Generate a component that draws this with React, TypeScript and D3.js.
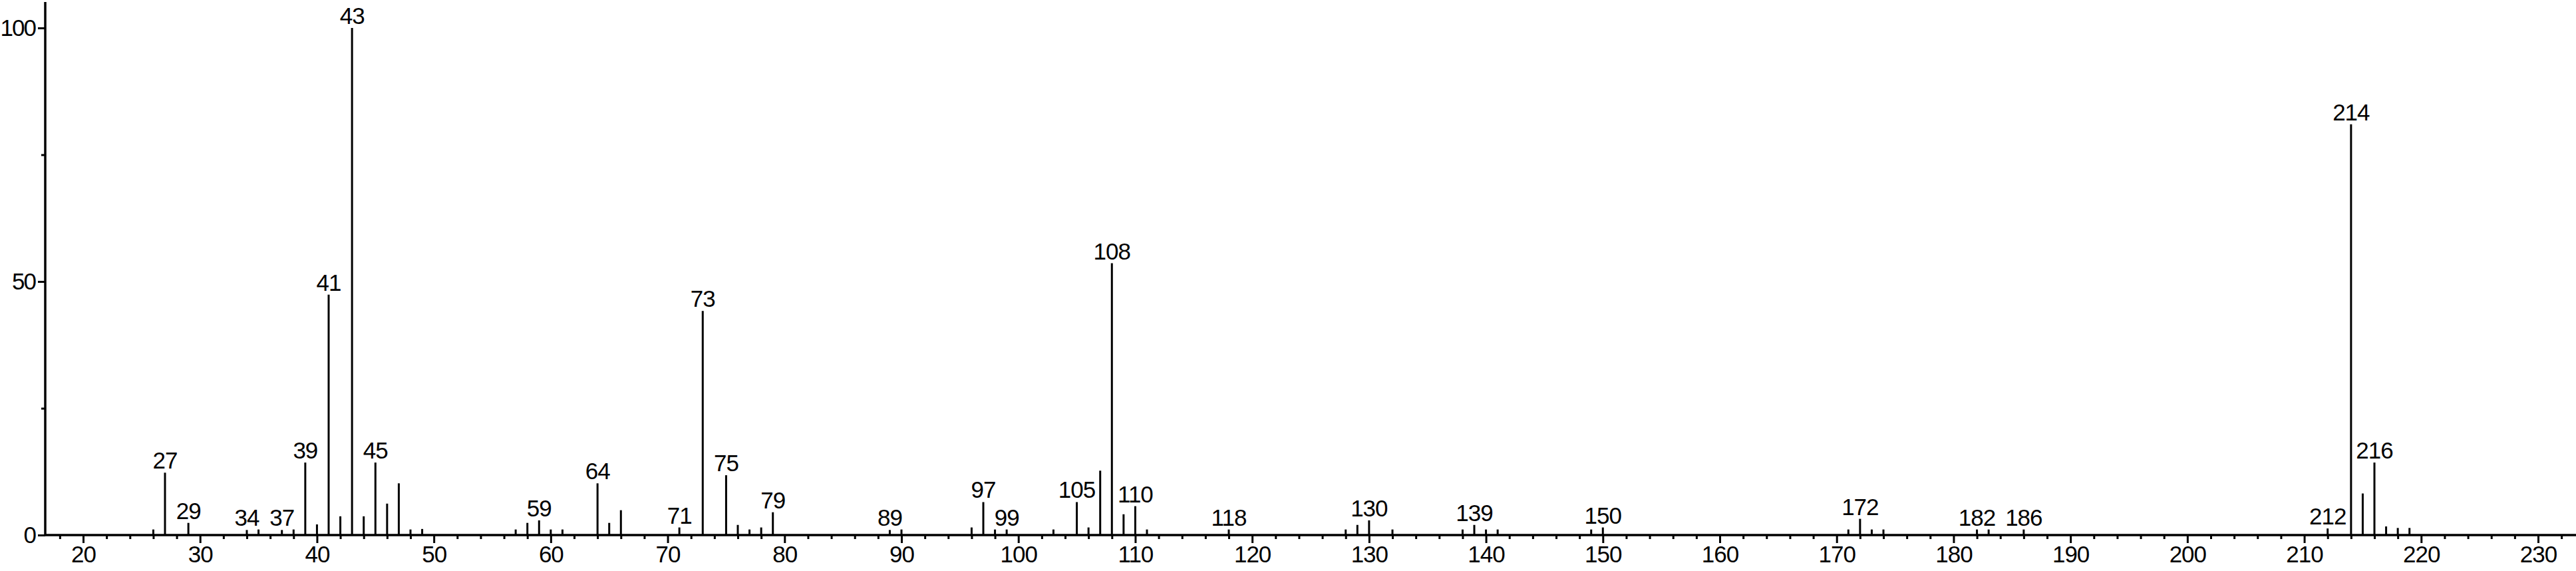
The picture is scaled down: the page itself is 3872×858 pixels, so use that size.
import React, { useEffect, useRef } from 'react';
import * as d3 from 'd3';

// m/z of every line in the spectrum and its relative intensity (%)
const peakMz = [
  26, 27, 29, 34, 35, 37, 38, 39, 40, 41, 42, 43, 44, 45, 46, 47, 48, 49,
  57, 58, 59, 60, 61, 64, 65, 66, 71, 73, 75, 76, 77, 78, 79,
  89, 90, 96, 97, 98, 99, 103, 105, 106, 107, 108, 109, 110, 111, 118,
  128, 129, 130, 132, 138, 139, 140, 141, 149, 150,
  171, 172, 173, 174, 182, 183, 186, 212, 214, 215, 216, 217, 218, 219,
];
const peakIntensity = [
  1.1, 12.3, 2.4, 1.0, 1.1, 1.0, 1.1, 14.3, 2.1, 47.4, 3.7, 100, 3.7, 14.3, 6.2, 10.2, 1.1, 1.2,
  1.1, 2.4, 2.9, 1.1, 1.1, 10.2, 2.4, 4.9, 1.5, 44.2, 11.8, 2.0, 1.1, 1.5, 4.5,
  1.0, 1.1, 1.5, 6.5, 1.1, 1.1, 1.1, 6.5, 1.5, 12.7, 53.6, 4.1, 5.7, 1.1, 1.1,
  1.1, 2.0, 2.9, 1.1, 1.1, 2.0, 1.1, 1.1, 1.1, 1.5,
  1.1, 3.2, 1.1, 1.1, 1.1, 1.1, 1.1, 1.3, 81.0, 8.2, 14.3, 1.7, 1.4, 1.4,
];
// lines that carry their m/z as a label
const labeledMz = [
  27, 29, 34, 37, 39, 41, 43, 45, 59, 64, 71, 73, 75, 79, 89, 97, 99,
  105, 108, 110, 118, 130, 139, 150, 172, 182, 186, 212, 214, 216,
];

const xTickLabels = [20, 30, 40, 50, 60, 70, 80, 90, 100, 110, 120, 130, 140, 150, 160, 170, 180, 190, 200, 210, 220, 230];
const xMinorTicks = [
  18, 22, 24, 26, 28, 32, 34, 36, 38, 42, 44, 46, 48, 52, 54, 56, 58, 62, 64, 66, 68, 72, 74, 76, 78,
  82, 84, 86, 88, 92, 94, 96, 98, 102, 104, 106, 108, 112, 114, 116, 118, 122, 124, 126, 128,
  132, 134, 136, 138, 142, 144, 146, 148, 152, 154, 156, 158, 162, 164, 166, 168, 172, 174, 176, 178,
  182, 184, 186, 188, 192, 194, 196, 198, 202, 204, 206, 208, 212, 214, 216, 218, 222, 224, 226, 228, 232,
];
const yTickLabels = [0, 50, 100];
const yMinorTicks = [25, 75];

const FONT = '"Liberation Sans", Arial, sans-serif';

export default function App() {
  const svgRef = useRef<SVGSVGElement | null>(null);

  useEffect(() => {
    if (!svgRef.current) return;
    const svg = d3.select(svgRef.current);
    svg.selectAll('*').remove();

    const width = 3872;
    const height = 858;
    const left = 68;
    const baseline = 804;

    const x = d3.scaleLinear().domain([20, 230]).range([125, 3815]);
    const y = d3.scaleLinear().domain([0, 100]).range([baseline, 42]);

    svg.append('rect').attr('width', width).attr('height', height).attr('fill', '#fff');

    // x axis
    const xAxis = svg.append('g').attr('transform', `translate(0,${baseline})`);
    xAxis.call(
      d3.axisBottom(x).tickValues(xTickLabels).tickSize(12).tickPadding(4).tickFormat(d3.format('d'))
    );
    xAxis.append('g').call(d3.axisBottom(x).tickValues(xMinorTicks).tickSize(6).tickFormat(() => ''));
    xAxis.selectAll('.domain').remove();
    xAxis.selectAll('line').attr('stroke', '#000').attr('stroke-width', 3);
    xAxis.selectAll('text')
      .attr('font-family', FONT).attr('font-size', 35).attr('letter-spacing', -1).attr('fill', '#000');
    xAxis.append('line')
      .attr('x1', left).attr('x2', width).attr('y1', 0).attr('y2', 0)
      .attr('stroke', '#000').attr('stroke-width', 3.5);

    // y axis
    const yAxis = svg.append('g').attr('transform', `translate(${left},0)`);
    yAxis.call(d3.axisLeft(y).tickValues(yTickLabels).tickSize(11).tickPadding(4).tickFormat(d3.format('d')));
    yAxis.append('g').call(d3.axisLeft(y).tickValues(yMinorTicks).tickSize(6).tickFormat(() => ''));
    yAxis.selectAll('.domain').remove();
    yAxis.selectAll('line').attr('stroke', '#000').attr('stroke-width', 3);
    yAxis.selectAll('text')
      .attr('font-family', FONT).attr('font-size', 35).attr('letter-spacing', -2).attr('fill', '#000');
    yAxis.append('line')
      .attr('x1', 0).attr('x2', 0).attr('y1', 3).attr('y2', baseline)
      .attr('stroke', '#000').attr('stroke-width', 3.5);

    const peaks = peakMz.map((mz, i) => ({ mz, value: peakIntensity[i] }));

    svg.append('g').selectAll('line')
      .data(peaks)
      .enter().append('line')
      .attr('x1', d => x(d.mz)).attr('x2', d => x(d.mz))
      .attr('y1', baseline).attr('y2', d => y(d.value))
      .attr('stroke', '#000').attr('stroke-width', 3);

    const labeled = peaks.filter(d => labeledMz.includes(d.mz));
    svg.append('g').selectAll('text')
      .data(labeled)
      .enter().append('text')
      .attr('x', d => x(d.mz))
      .attr('y', d => y(d.value) - 6)
      .attr('text-anchor', 'middle')
      .attr('font-family', FONT)
      .attr('font-size', 35)
      .attr('letter-spacing', -1)
      .attr('fill', '#000')
      .attr('stroke', '#fff')
      .attr('stroke-width', 3)
      .attr('paint-order', 'stroke')
      .text(d => String(d.mz));
  }, []);

  return (
    <svg
      ref={svgRef}
      width={3872}
      height={858}
      style={{ position: 'absolute', left: 0, top: 0, display: 'block' }}
    />
  );
}
